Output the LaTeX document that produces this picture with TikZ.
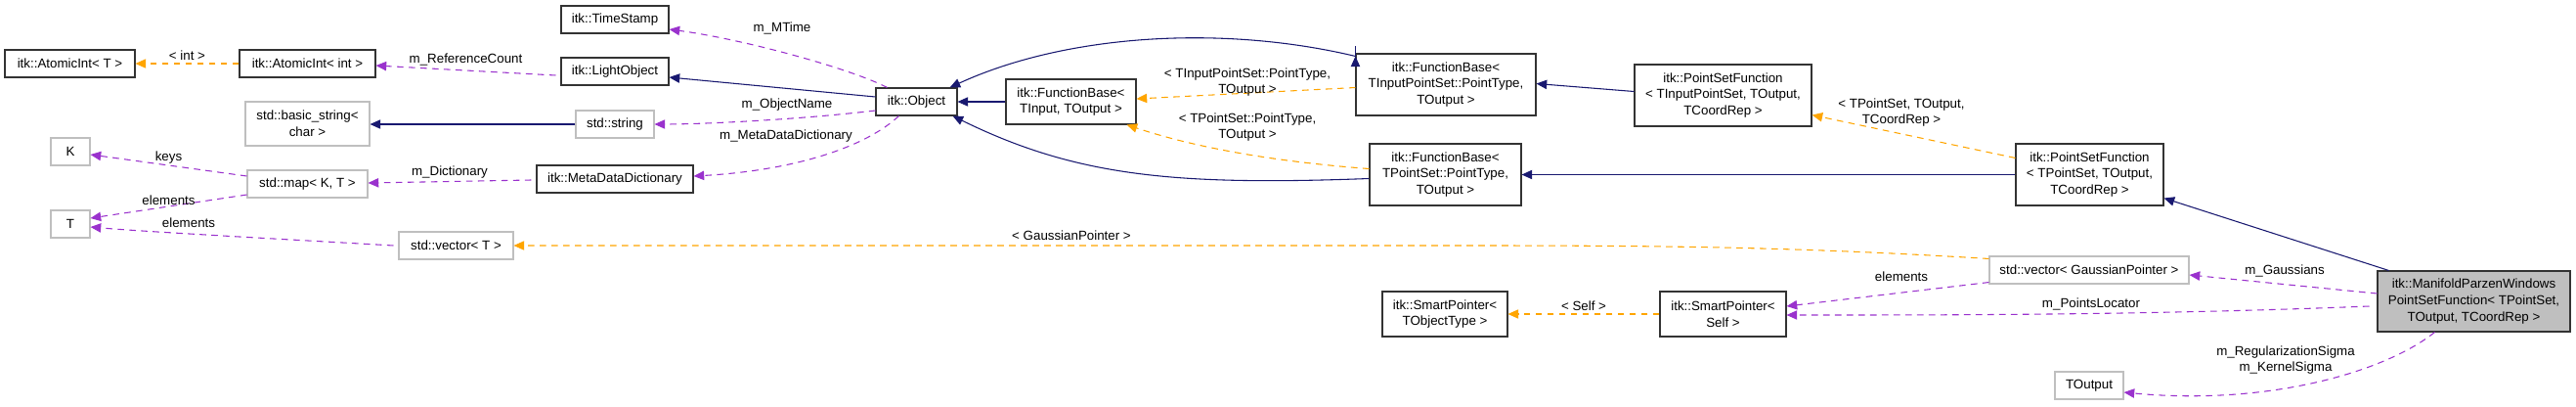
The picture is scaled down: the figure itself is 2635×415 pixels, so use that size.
\documentclass[tikz,border=0pt]{standalone}
\usepackage{fontspec}
\setmainfont{Liberation Sans}
\usetikzlibrary{arrows.meta,calc}
\definecolor{navy}{HTML}{191970}
\definecolor{purp}{HTML}{9A32CD}
\definecolor{orng}{HTML}{FFA500}
\definecolor{gbord}{HTML}{BFBFBF}
\newcommand\bx[7]{\node[#6, minimum width={(#4-#2)*0.75pt}, minimum height={(#5-#3)*0.75pt}] (#1) at ({(#2+#4)/2},{(#3+#5)/2}) {#7};}
\tikzset{
 bk/.style={draw=black!80, line width=0.8pt, inner sep=0pt, align=center, font=\fontsize{10}{12.5}\selectfont},
 gr/.style={bk, draw=gbord},
 mf/.style={bk, fill=gbord},
 lb/.style={inner sep=0pt, align=center, font=\fontsize{10}{12.5}\selectfont},
 inh/.style={draw=navy, line width=0.8pt, -{Triangle[length=8pt,width=7pt]}},
 use/.style={draw=purp, line width=0.8pt, dash pattern=on 5pt off 4pt, -{Triangle[length=8pt,width=7pt]}},
 tpl/.style={draw=orng, line width=0.8pt, dash pattern=on 5pt off 4pt, -{Triangle[length=8pt,width=7pt]}},
}
\begin{document}
\begin{tikzpicture}[x=0.75pt,y=-0.75pt]
\useasboundingbox (0,0) rectangle (2635,415);
\bx{aiT}{5}{51}{138}{79}{bk}{itk::AtomicInt< T >}
\bx{aiI}{245}{51}{384}{79}{bk}{itk::AtomicInt< int >}
\bx{ts}{574}{6}{684}{34}{bk}{itk::TimeStamp}
\bx{lo}{574}{59}{684}{87}{bk}{itk::LightObject}
\bx{bs}{251}{104}{378}{149}{gr}{std::basic\_string<\\char >}
\bx{ss}{589}{113}{669}{141}{gr}{std::string}
\bx{K}{52}{141}{92}{169}{gr}{K}
\bx{T}{52}{215}{92}{243}{gr}{T}
\bx{map}{253}{174}{376}{202}{gr}{std::map< K, T >}
\bx{mdd}{549}{169}{709}{197}{bk}{itk::MetaDataDictionary}
\bx{vT}{408}{237}{525}{265}{gr}{std::vector< T >}
\bx{obj}{896}{90}{979}{118}{bk}{itk::Object}
\bx{fb}{1029}{81}{1162}{127}{bk}{itk::FunctionBase<\\TInput, TOutput >}
\bx{fbi}{1387}{55}{1571}{118}{bk}{itk::FunctionBase<\\TInputPointSet::PointType,\\TOutput >}
\bx{fbp}{1401}{147}{1556}{210}{bk}{itk::FunctionBase<\\TPointSet::PointType,\\TOutput >}
\bx{psfi}{1672}{66}{1853}{129}{bk}{itk::PointSetFunction\\< TInputPointSet, TOutput,\\TCoordRep >}
\bx{psf}{2062}{147}{2213}{210}{bk}{itk::PointSetFunction\\< TPointSet, TOutput,\\TCoordRep >}
\bx{vg}{2035}{262}{2239}{290}{gr}{std::vector< GaussianPointer >}
\bx{spT}{1414}{298}{1542}{344}{bk}{itk::SmartPointer<\\TObjectType >}
\bx{spS}{1698}{298}{1827}{344}{bk}{itk::SmartPointer<\\Self >}
\bx{mp}{2432}{277}{2629}{339}{mf}{itk::ManifoldParzenWindows\\PointSetFunction< TPointSet,\\TOutput, TCoordRep >}
\bx{to}{2102}{380}{2172}{408}{gr}{TOutput}

\draw[tpl] (aiI.west) -- (aiT.east) node[lb, midway, above=2pt] (l1) {< int >};
\draw[use] ($(lo.west)+(-5,4)$) -- ($(aiI.east)+(0,2)$) node[lb, pos=0.5, above=3pt] (l2) {m\_ReferenceCount};
\draw[use] ($(obj.north)+(-30,0)$) .. controls (870,70) and (760,40) .. ($(ts.east)+(0,10)$);
\node[lb] (l3) at (800,29) {m\_MTime};
\draw[inh] ($(obj.west)+(0,-5)$) -- ($(lo.east)+(0,6)$);
\draw[inh] (ss.west) -- ($(bs.east)+(0,0.5)$);
\draw[use] ($(obj.west)+(0,9)$) .. controls (820,122) and (720,127) .. (ss.east);
\node[lb] (l4) at (805,107) {m\_ObjectName};
\draw[use] ($(map.west)+(0,-8)$) -- ($(K.east)+(0,3)$) node[lb, pos=0.5, above=1pt] (l5) {keys};
\draw[use] ($(map.west)+(0,11)$) -- ($(T.east)+(0,-6)$) node[lb, pos=0.5, above=1pt] (l6) {elements};
\draw[use] ($(vT.west)+(-5,0)$) .. controls (300,245) and (150,237) .. ($(T.east)+(0,3)$);
\node[lb] (l7) at (193,228) {elements};
\draw[use] ($(mdd.west)+(-5,1)$) -- ($(map.east)+(0,-1)$) node[lb, pos=0.5, above=2pt] (l8) {m\_Dictionary};
\draw[use] ($(obj.south)+(-18,0)$) .. controls (880,155) and (800,175) .. ($(mdd.east)+(0,-3)$);
\node[lb] (l9) at (804,139) {m\_MetaDataDictionary};
\draw[inh] (fb.west) -- (obj.east);
\draw[inh] ($(fbi.north west)+(0,3)$) .. controls (1250,25) and (1090,35) .. ($(obj.north east)+(-8,0)$);
\draw[inh] ($(fbi.north west)+(0,3)$) -- ($(fbi.north west)+(0,3)$);
\draw[inh] ($(fbp.west)+(0,4)$) .. controls (1200,190) and (1100,180) .. ($(obj.south east)+(-5,0)$);
\draw[tpl] ($(fbi.west)+(0,3)$) -- ($(fb.east)+(0,-3)$);
\node[lb] (l10) at (1276,84) {< TInputPointSet::PointType,\\TOutput >};
\draw[tpl] ($(fbp.west)+(0,-6)$) .. controls (1300,165) and (1220,150) .. ($(fb.south east)+(-10,0)$);
\node[lb] (l11) at (1276,130) {< TPointSet::PointType,\\TOutput >};
\draw[inh] ($(psfi.west)+(0,-4)$) -- ($(fbi.east)+(0,-1)$);
\draw[inh] (psf.west) -- (fbp.east);
\draw[tpl] ($(psf.north west)+(0,15)$) -- ($(psfi.south east)+(0,-12)$);
\node[lb] (l12) at (1945,115) {< TPointSet, TOutput,\\TCoordRep >};
\draw[inh] ($(mp.north west)+(12,0)$) -- ($(psf.south east)+(0,-8)$);
\draw[tpl] ($(vg.north west)+(0,3)$) .. controls (1800,250) and (1650,251) .. (1400,251) -- ($(vT.east)+(0,0)$);
\node[lb] (l13) at (1096,241) {< GaussianPointer >};
\draw[use] ($(vg.south west)+(0,-2)$) -- ($(spS.east)+(0,-8)$);
\node[lb] (l14) at (1945,283) {elements};
\draw[use] ($(mp.west)+(0,-8)$) -- ($(vg.east)+(0,5)$);
\node[lb] (l15) at (2337,277) {m\_Gaussians};
\draw[use] ($(mp.west)+(-8,5)$) .. controls (2200,322) and (2000,322) .. ($(spS.east)+(0,1)$);
\node[lb] (l16) at (2139,311) {m\_PointsLocator};
\draw[use] ($(mp.south)+(-40,0)$) .. controls (2440,380) and (2320,415) .. ($(to.east)+(0,7)$);
\node[lb] (l17) at (2338,368) {m\_RegularizationSigma\\m\_KernelSigma};
\draw[tpl] (spS.west) -- (spT.east) node[lb, midway, above=2pt] (l18) {< Self >};
\end{tikzpicture}
\end{document}
